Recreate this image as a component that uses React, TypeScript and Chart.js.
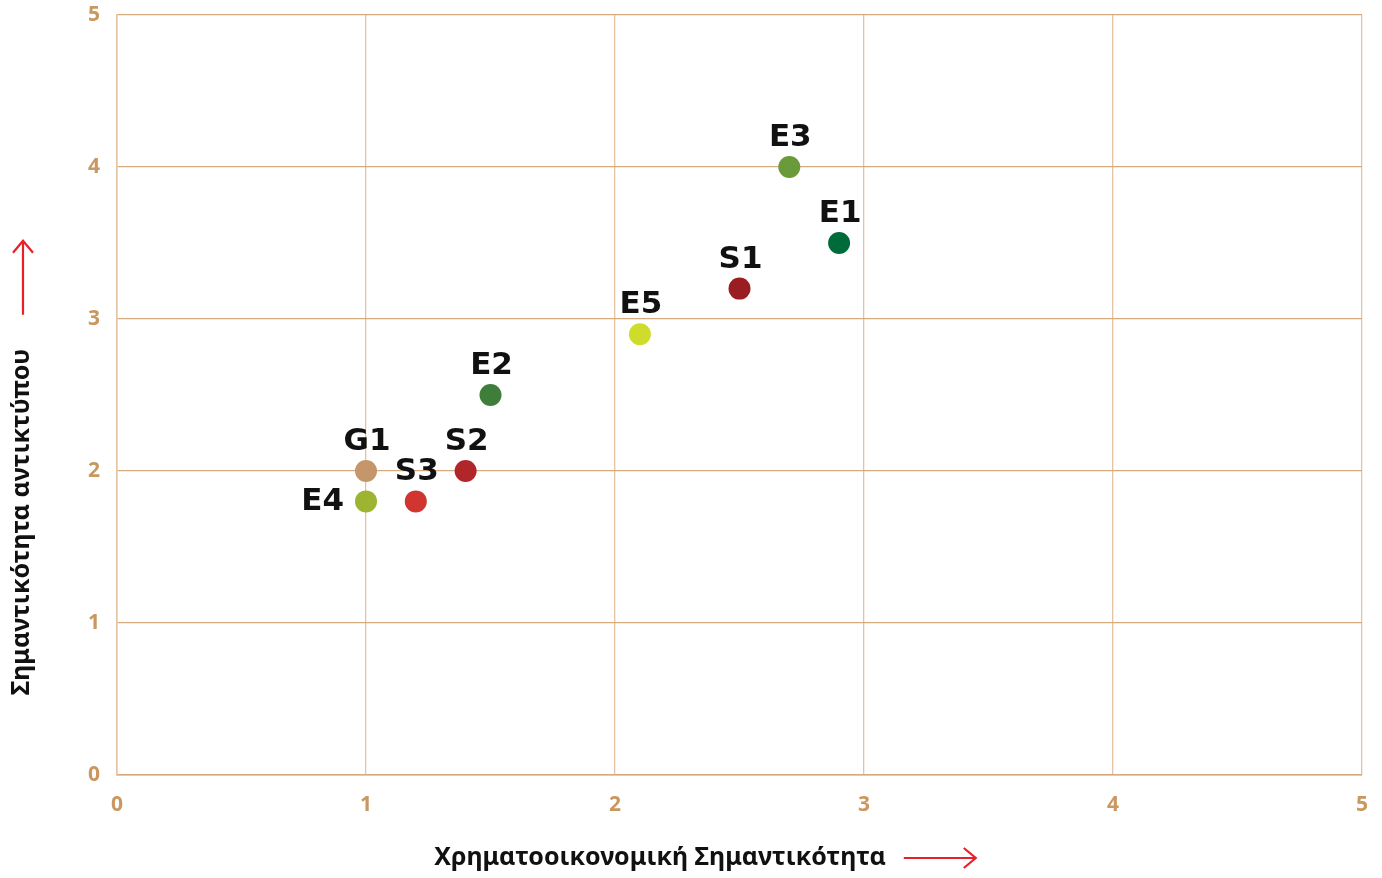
import React, { useEffect, useRef } from "react";
import { Chart, registerables } from "chart.js";

Chart.register(...registerables);

const pointLabels = ["G1", "E4", "S3", "S2", "E2", "E5", "S1", "E3", "E1"];
const xValues = [1, 1, 1.2, 1.4, 1.5, 2.1, 2.5, 2.7, 2.9];
const yValues = [2, 1.8, 1.8, 2, 2.5, 2.9, 3.2, 4, 3.5];
const pointColors = ["#c4966a", "#9db433", "#d0352f", "#b1262a", "#3f7d3b", "#cedc2b", "#9a1d21", "#6b9a3b", "#006b3a"];
const leftLabels = ["E4"];
const xTitle = "Χρηματοοικονομική Σημαντικότητα";
const yTitle = "Σημαντικότητα αντικτύπου";

const TAN = "#c9975f";
const GRID_H = "#d6aa7c";
const GRID_V = "#e2c4a4";
const RED = "#e8202a";

const labelPlugin = {
  id: "pointLabels",
  afterDatasetsDraw(chart: any) {
    const ctx = chart.ctx;
    const meta = chart.getDatasetMeta(0);
    ctx.save();
    ctx.fillStyle = "#111";
    ctx.font = "bold 31px 'DejaVu Sans', sans-serif";
    meta.data.forEach((el: any, i: number) => {
      const name = pointLabels[i];
      if (leftLabels.includes(name)) {
        ctx.textAlign = "right";
        ctx.textBaseline = "middle";
        ctx.fillText(name, el.x - 22, el.y + 1);
      } else {
        ctx.textAlign = "center";
        ctx.textBaseline = "alphabetic";
        ctx.fillText(name, el.x + 1, el.y - 21);
      }
    });
    ctx.restore();
  },
};

const titlePlugin = {
  id: "axisTitles",
  afterDraw(chart: any) {
    const ctx = chart.ctx;
    ctx.save();
    ctx.fillStyle = "#111";
    ctx.font = "bold 25px 'Noto Sans', sans-serif";
    ctx.textBaseline = "middle";
    ctx.textAlign = "center";
    const tx = 660;
    const ty = 858;
    ctx.fillText(xTitle, tx, ty);
    const w = ctx.measureText(xTitle).width;
    ctx.strokeStyle = RED;
    ctx.lineWidth = 2.2;
    const ax0 = tx + w / 2 + 18;
    const ax1 = ax0 + 72;
    ctx.beginPath();
    ctx.moveTo(ax0, ty);
    ctx.lineTo(ax1, ty);
    ctx.moveTo(ax1 - 12, ty - 10);
    ctx.lineTo(ax1, ty);
    ctx.lineTo(ax1 - 12, ty + 10);
    ctx.stroke();
    const yx = 22;
    const yc = 522;
    ctx.save();
    ctx.translate(yx, yc);
    ctx.rotate(-Math.PI / 2);
    ctx.fillText(yTitle, 0, 0);
    const wy = ctx.measureText(yTitle).width;
    ctx.restore();
    const ay0 = yc - wy / 2 - 34;
    const ay1 = ay0 - 74;
    ctx.beginPath();
    ctx.moveTo(yx + 1, ay0);
    ctx.lineTo(yx + 1, ay1);
    ctx.moveTo(yx + 1 - 10, ay1 + 12);
    ctx.lineTo(yx + 1, ay1);
    ctx.lineTo(yx + 1 + 10, ay1 + 12);
    ctx.stroke();
    ctx.restore();
  },
};

export default function App() {
  const ref = useRef<HTMLCanvasElement | null>(null);
  useEffect(() => {
    if (!ref.current) return;
    const chart = new Chart(ref.current, {
      type: "scatter",
      data: {
        datasets: [
          {
            data: xValues.map((x, i) => ({ x, y: yValues[i] })),
            pointBackgroundColor: pointColors,
            pointBorderWidth: 0,
            pointRadius: 11,
            pointHoverRadius: 11,
          },
        ],
      },
      options: {
        animation: false,
        responsive: true,
        maintainAspectRatio: false,
        layout: { padding: { top: 15, right: 20, left: 0, bottom: 0 } },
        plugins: { legend: { display: false }, tooltip: { enabled: false } },
        scales: {
          x: {
            type: "linear",
            min: 0,
            max: 5,
            ticks: { stepSize: 1, color: TAN, font: { family: "'Noto Sans', sans-serif", size: 21, weight: "bold" }, padding: 17 },
            grid: { color: GRID_V, drawTicks: false, lineWidth: 1.3 },
            border: { color: GRID_H, width: 1.5 },
            afterFit(scale: any) {
              scale.height = 103;
              scale.paddingLeft = 0;
              scale.paddingRight = 0;
            },
          },
          y: {
            type: "linear",
            min: 0,
            max: 5,
            ticks: { stepSize: 1, color: TAN, font: { family: "'Noto Sans', sans-serif", size: 21, weight: "bold" }, padding: 17 },
            grid: { color: GRID_H, drawTicks: false, lineWidth: 1.3 },
            border: { color: GRID_V, width: 1.5 },
            afterFit(scale: any) {
              scale.width = 117;
              scale.paddingTop = 0;
              scale.paddingBottom = 0;
            },
          },
        },
      },
      plugins: [labelPlugin, titlePlugin],
    } as any);
    return () => chart.destroy();
  }, []);
  return (
    <div style={{ position: "fixed", left: 0, top: 0, width: 1382, height: 878, background: "#fff" }}>
      <canvas ref={ref} />
    </div>
  );
}
